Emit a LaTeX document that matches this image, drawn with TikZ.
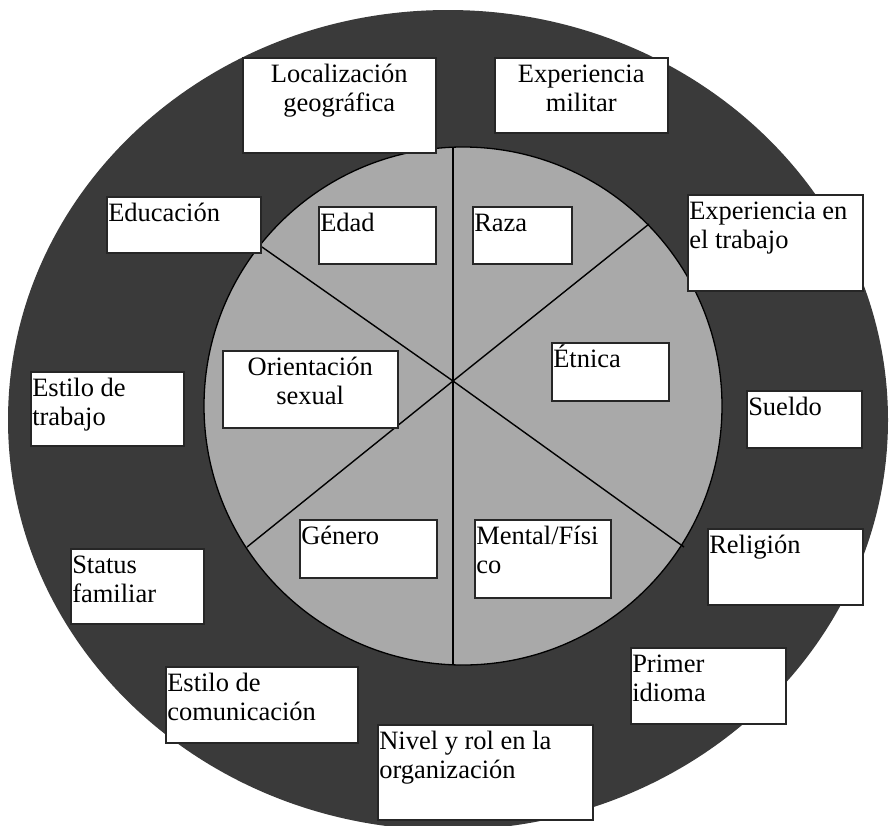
\documentclass[tikz,border=0pt]{standalone}
\usepackage{fontspec}
\setmainfont{Liberation Serif}
\definecolor{ringgray}{HTML}{3A3A3A}
\definecolor{coregray}{HTML}{A9A9A9}
\tikzset{
  ring/.style={fill=ringgray, draw=none},
  core/.style={fill=coregray, draw=black, line width=1.3pt},
  spoke/.style={draw=black, line width=1.4pt},
  tagbox/.style={draw=black!85, line width=1.5pt, fill=white, inner sep=0pt,
    anchor=north west, font=\fontsize{26.5}{29}\selectfont}
}
\newcommand{\lefttag}[6]{%
  \node[tagbox] (#1) at (#2,#3) {\parbox[t][#5pt][t]{#4pt}{\raggedright\leftskip=1.5pt\rule{0pt}{25pt}#6}};}
\newcommand{\centertag}[6]{%
  \node[tagbox] (#1) at (#2,#3) {\parbox[t][#5pt][t]{#4pt}{\centering\rule{0pt}{25pt}#6}};}
\begin{document}
\begin{tikzpicture}[x=1pt,y=-1pt]
\useasboundingbox (0,0) rectangle (891,825);
% rings
\fill[ring] (448,420) ellipse [x radius=440, y radius=410];
\draw[core] (463,406) circle [radius=259];
% spokes
\coordinate (hub) at (453,381);
\coordinate (ul) at (262,247);
\coordinate (lr) at (684,547);
\coordinate (ur) at (649,224);
\coordinate (ll) at (247,547);
\coordinate (top) at (453,147);
\coordinate (bot) at (453,665);
\draw[spoke] (ul) -- (hub) -- (lr);
\draw[spoke] (ur) -- (hub) -- (ll);
\draw[spoke] (top) -- (hub) -- (bot);
% outer boxes
\centertag{loc}{242}{57}{193}{95}{Localización\\geográfica}
\centertag{mil}{494}{57}{173}{75}{Experiencia\\militar}
\lefttag{edu}{106}{196}{154}{56}{Educación}
\lefttag{expt}{687}{194}{175}{96}{Experiencia en\\el trabajo}
\lefttag{est}{30}{371}{153}{74}{Estilo de\\trabajo}
\lefttag{sue}{746}{390}{115}{57}{Sueldo}
\lefttag{sta}{70}{548}{133}{75}{Status\\familiar}
\lefttag{rel}{707}{528}{155}{76}{Religión}
\lefttag{pri}{630}{647}{155}{76}{Primer\\idioma}
\lefttag{com}{165}{666}{192}{76}{Estilo de\\comunicación}
\lefttag{niv}{377}{724}{215}{95}{Nivel y rol en la\\organización}
% inner boxes
\lefttag{edad}{318}{206}{117}{57}{Edad}
\lefttag{raza}{472}{206}{99}{57}{Raza}
\centertag{ori}{222}{350}{175}{77}{Orientación\\sexual}
\lefttag{etn}{551}{342}{117}{58}{Étnica}
\lefttag{gen}{299}{519}{137}{58}{Género}
\lefttag{men}{474}{519}{136}{78}{Mental/Físi\\co}
\end{tikzpicture}
\end{document}
